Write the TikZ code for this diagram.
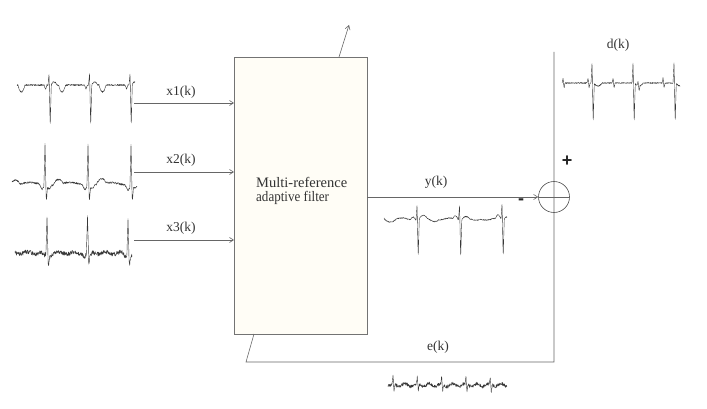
\documentclass[tikz,border=0pt]{standalone}
\usepackage{fontspec}
\setmainfont{Liberation Serif}
\newfontfamily\signfont{Liberation Sans}
\usetikzlibrary{arrows.meta,calc}
\pgfmathdeclarefunction{hat}{2}{\pgfmathparse{max(0,1-abs(#1)/(#2))}}
\pgfmathdeclarefunction{bump}{2}{\pgfmathparse{max(0,1-(#1)*(#1)/((#2)*(#2)))}}
\pgfmathdeclarefunction{ph}{3}{\pgfmathparse{mod(#1-#2+20.5*#3,#3)-0.5*#3}}
% x1(k)
\pgfmathdeclarefunction{sigA}{1}{%
  \pgfmathsetmacro\uu{ph(#1,49,40.5)}%
  \pgfmathparse{85-11*hat(\uu,1)+40*hat(\uu-1.2,1.1)+7*bump(\uu-13,3.5)-3*bump(\uu-5,3)+4*hat(\uu+3.5,1.5)+0.7*rand}}
% x2(k)
\pgfmathdeclarefunction{sigB}{1}{%
  \pgfmathsetmacro\uu{ph(#1,45,43)}%
  \pgfmathparse{184-42*hat(\uu,1.1)+16*hat(\uu-1.4,1.1)+5*hat(\uu+3,3)+3*bump(\uu-4,2.5)-5*bump(\uu-13,5)+1.5*sin(#1*9)+0.9*rand}}
% x3(k)
\pgfmathdeclarefunction{sigC}{1}{%
  \pgfmathsetmacro\uu{ph(#1,47,40.5)}%
  \pgfmathparse{253-37*hat(\uu,1.1)+11*hat(\uu-1.4,1.1)+4*hat(\uu+3,2.5)+3*bump(\uu-3,2)+1.2*sin(#1*23)+2.2*rand}}
% y(k)
\pgfmathdeclarefunction{sigY}{1}{%
  \pgfmathsetmacro\uu{ph(#1,417,42.5)}%
  \pgfmathparse{219-14*hat(\uu,1)+37*hat(\uu-1.2,1.1)-3*bump(\uu-6,4)-3*bump(\uu+4,2.5)+2*bump(\uu-16,6)+1*sin(#1*15)+0.5*rand}}
% d(k)
\pgfmathdeclarefunction{sigD}{1}{%
  \pgfmathsetmacro\uu{ph(#1,592,41)}%
  \pgfmathsetmacro\vv{ph(#1,563,25)}%
  \pgfmathparse{83-20*hat(\uu,1)+38*hat(\uu-1.2,1.1)+3*bump(\uu-6,4)-5*hat(\vv,0.9)+5*hat(\vv-1.1,0.9)+0.6*rand}}
% e(k)
\pgfmathdeclarefunction{sigE}{1}{%
  \pgfmathsetmacro\vv{ph(#1,393,24.3)}%
  \pgfmathparse{385-7*hat(\vv,0.9)+7*hat(\vv-1.1,0.9)+1.5*sin(#1*30)+1.8*rand}}
\begin{document}
\begin{tikzpicture}[x=1pt,y=-1pt,
  ln/.style={draw=black!60, line width=0.6pt},
  arr/.style={ln, -{Straight Barb[length=4pt,width=5pt]}},
  sig/.style={draw=black!78, line width=0.4pt, line join=round},
  lab/.style={font=\fontsize{13.5}{14}\selectfont, text=black!80, inner sep=0pt},
  sgn/.style={font=\signfont\bfseries\fontsize{18}{18}\selectfont, text=black!85, inner sep=0pt}]
\useasboundingbox (0,0) rectangle (707,409);
\pgfmathsetseed{12}
% filter box
\node[draw=black!55, line width=0.6pt, fill={rgb,255:red,255;green,253;blue,246},
  minimum width=133pt, minimum height=277pt, inner sep=0pt, outer sep=0pt,
  anchor=north west] (filt) at (234,57) {};
\node[lab, anchor=base west, font=\fontsize{14.5}{15}\selectfont] (t1) at (256,187) {Multi-reference};
\node[lab, anchor=base west, font=\fontsize{14.5}{15}\selectfont] (t2) at (256,201) {\scalebox{0.9}[1]{adaptive filter}};
% summing junction
\node[draw=black!70, circle, minimum size=31pt, inner sep=0pt, line width=0.6pt] (sum) at (554,197) {};
\draw[ln] (sum.west) -- (sum.east);
\coordinate (dtop) at (554,52);
\coordinate (br) at (554,362);
\coordinate (bl) at (246,362);
\coordinate (fb) at ($(filt.south west)+(20,0)$);
\draw[ln] (dtop) -- (br) -- (bl) -- (fb);
% adaptation arrow
\coordinate (ft) at ($(filt.north west)+(105,0)$);
\coordinate (tip) at (349,25);
\draw[arr] (ft) -- (tip);
% inputs
\coordinate (i1) at (134,103);
\coordinate (i2) at (134,172);
\coordinate (i3) at (134,240);
\draw[arr] (i1) -- (i1 -| filt.west);
\draw[arr] (i2) -- (i2 -| filt.west);
\draw[arr] (i3) -- (i3 -| filt.west);
% output
\draw[arr] (filt.east |- sum) -- (sum.west);
% labels
\node[lab] (lx1) at (181,92) {x1(k)};
\node[lab] (lx2) at (181,160) {x2(k)};
\node[lab] (lx3) at (181,228) {x3(k)};
\node[lab] (ly) at (436,182) {y(k)};
\node[lab] (ld) at (618,45) {d(k)};
\node[lab] (le) at (438,347) {e(k)};
\node[sgn] (plus) at (567,161) {+};
\node[sgn] (minus) at (521,202) {-};
% signals
\draw[sig] plot[domain=17:135, samples=473] (\x,{sigA(\x)});
\draw[sig] plot[domain=12:137, samples=501] (\x,{sigB(\x)});
\draw[sig] plot[domain=15:132, samples=469] (\x,{sigC(\x)});
\draw[sig] plot[domain=384:507, samples=493] (\x,{sigY(\x)});
\draw[sig] plot[domain=562:680, samples=473] (\x,{sigD(\x)});
\draw[sig] plot[domain=388:507, samples=477] (\x,{sigE(\x)});
\end{tikzpicture}
\end{document}
